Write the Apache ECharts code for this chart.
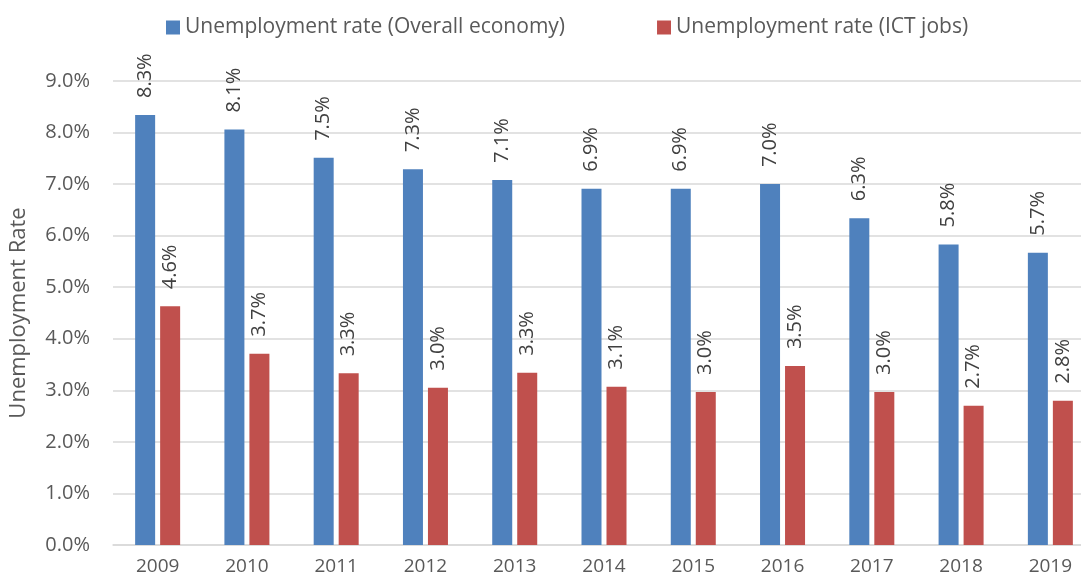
<!DOCTYPE html>
<html>
<head>
<meta charset="utf-8">
<script src="https://cdn.jsdelivr.net/npm/echarts@6/dist/echarts.min.js"></script>
<style>
  html, body { margin: 0; padding: 0; background: #fff; overflow: hidden; }
  /* the plot runs slightly past the right edge of the window */
  #chart { width: 1095px; height: 585px; }
</style>
</head>
<body>
<div id="chart"></div>
<script>
// Years on the category axis
const years = ['2009', '2010', '2011', '2012', '2013', '2014', '2015', '2016', '2017', '2018', '2019'];
// Unemployment rate, percent
const overallRate = [8.34, 8.06, 7.51, 7.29, 7.08, 6.91, 6.91, 7.00, 6.34, 5.83, 5.67];
const ictRate = [4.63, 3.71, 3.33, 3.05, 3.34, 3.07, 2.97, 3.47, 2.97, 2.70, 2.80];
const seriesNames = ['Unemployment rate (Overall economy)', 'Unemployment rate (ICT jobs)'];

const FONT = '"Open Sans", "Noto Sans", sans-serif';
const chart = echarts.init(document.getElementById('chart'));

const valueLabel = {
  show: true,
  position: 'top',
  rotate: 90,
  align: 'left',
  verticalAlign: 'middle',
  distance: 17,
  color: '#404040',
  fontFamily: FONT,
  fontSize: 20,
  formatter: p => p.value.toFixed(1) + '%'
};

chart.setOption({
  animation: false,
  textStyle: { fontFamily: FONT },
  legend: {
    top: 12,
    left: 161,
    itemWidth: 14,
    itemHeight: 14,
    itemGap: 92,
    icon: 'rect',
    textStyle: { color: '#595959', fontSize: 21, fontFamily: FONT },
    data: seriesNames
  },
  grid: { left: 113, right: 0, top: 81, bottom: 40, containLabel: false },
  xAxis: {
    type: 'category',
    data: years,
    axisLine: { lineStyle: { color: '#d9d9d9', width: 1.5 } },
    axisTick: { show: false },
    axisLabel: { color: '#595959', fontSize: 19, margin: 12, fontFamily: FONT }
  },
  yAxis: {
    type: 'value',
    min: 0,
    max: 9,
    interval: 1,
    name: 'Unemployment Rate',
    nameLocation: 'middle',
    nameGap: 83,
    nameTextStyle: { color: '#595959', fontSize: 22, fontFamily: FONT },
    axisLine: { show: false },
    axisTick: { show: false },
    axisLabel: { color: '#595959', fontSize: 20, margin: 23, fontFamily: FONT, formatter: v => v.toFixed(1) + '%' },
    splitLine: { lineStyle: { color: '#d9d9d9', width: 1.5 } }
  },
  series: [
    {
      name: seriesNames[0],
      type: 'bar',
      data: overallRate,
      barWidth: 20,
      barGap: '25%',
      itemStyle: { color: '#4f81bd' },
      label: valueLabel
    },
    {
      name: seriesNames[1],
      type: 'bar',
      data: ictRate,
      barWidth: 20,
      barGap: '25%',
      itemStyle: { color: '#c0504d' },
      label: valueLabel
    }
  ]
});
</script>
</body>
</html>
